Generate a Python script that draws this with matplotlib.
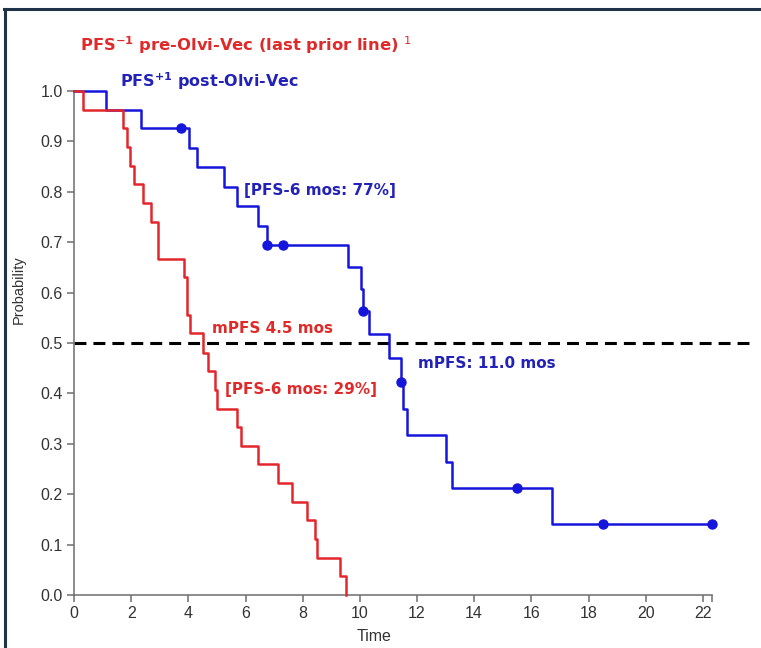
import numpy as np
import matplotlib
matplotlib.use("Agg")
from matplotlib import pyplot as plt
from matplotlib.lines import Line2D

plt.rcParams['mathtext.fontset'] = 'dejavusans'

# PFS-1 (pre-Olvi-Vec, last prior line)
pre_time = [0, 0.33, 1.72, 1.84, 1.96, 2.10, 2.40, 2.69, 2.93, 3.85, 3.96, 4.05,
            4.52, 4.68, 4.93, 5.01, 5.69, 5.83, 6.45, 7.15, 7.64, 8.14, 8.43,
            8.51, 9.31, 9.52]
pre_surv = [1.0, 0.963, 0.926, 0.889, 0.852, 0.815, 0.778, 0.741, 0.667, 0.630,
            0.556, 0.519, 0.481, 0.444, 0.407, 0.370, 0.333, 0.296, 0.259, 0.222,
            0.185, 0.148, 0.111, 0.074, 0.037, 0.0]

# PFS+1 (post-Olvi-Vec)
post_time = [0, 1.12, 2.33, 4.03, 4.31, 5.25, 5.69, 6.45, 6.74, 9.60, 10.03, 10.10,
             10.33, 11.03, 11.43, 11.50, 11.64, 13.02, 13.21, 16.71, 22.31]
post_surv = [1.0, 0.963, 0.926, 0.887, 0.849, 0.810, 0.772, 0.733, 0.694, 0.651,
             0.607, 0.564, 0.517, 0.470, 0.423, 0.370, 0.317, 0.264, 0.212, 0.141,
             0.141]
cens_time = [3.73, 6.74, 7.32, 10.10, 11.43, 15.51, 18.5, 22.31]
cens_surv = [0.926, 0.694, 0.694, 0.564, 0.423, 0.212, 0.141, 0.141]

red = '#e3262b'
blue = '#1515dc'
red_txt = '#e02a2a'
blue_txt = '#2222b8'

W, H = 761, 648
fig = plt.figure(figsize=(W / 100, H / 100), dpi=100)
ax = fig.add_axes([74 / W, 1 - 595 / H, (711.7 - 74) / W, (595 - 91) / H])

def fx(px):
    return px / W

def fy(py):
    return 1 - py / H

ax.step(post_time, post_surv, where='post', color=blue, lw=1.8, clip_on=False, zorder=3)
ax.step(pre_time, pre_surv, where='post', color=red, lw=1.8, clip_on=False, zorder=3)
ax.plot(cens_time, cens_surv, 'o', color=blue, ms=6.5, clip_on=False, zorder=4)

# median line
ax.plot([0, 23.65], [0.5, 0.5], color='black', lw=2.2, dashes=(3.9, 2.3),
        clip_on=False, zorder=2)

ax.set_xlim(0, 22.31)
ax.set_ylim(0, 1.0)
ax.set_xticks(np.arange(0, 23, 2))
ax.set_xticks([22.31], minor=True)
ax.set_yticks(np.arange(0, 1.01, 0.1))
ax.set_yticklabels(['%.1f' % v for v in np.arange(0, 1.01, 0.1)])

for s in ['top', 'right']:
    ax.spines[s].set_visible(False)
for s in ['left', 'bottom']:
    ax.spines[s].set_color('#6e6e6e')
    ax.spines[s].set_linewidth(1.1)
ax.tick_params(which='both', direction='out', length=5, width=1.1, color='#6e6e6e',
               labelsize=11.5, labelcolor='#333333', pad=3)
for lab in ax.get_xticklabels() + ax.get_yticklabels():
    lab.set_family('Liberation Sans')

ax.set_ylabel('Probability', family='Liberation Sans', fontsize=10.5, color='#333333')
ax.yaxis.set_label_coords(-0.076, 0.605)
ax.set_xlabel('Time', family='Liberation Sans', fontsize=11.5, color='#333333')
ax.xaxis.set_label_coords(0.47, -0.083)
ax.xaxis.label.set_va('center')

tk = dict(family='DejaVu Sans', fontweight='bold', fontsize=11, va='baseline', ha='left')
fig.text(fx(80), fy(51), r'PFS$^{\mathbf{-1}}$ pre-Olvi-Vec (last prior line) $^{\mathit{1}}$',
         color=red_txt, **dict(tk, fontsize=11.8))
fig.text(fx(120), fy(87), r'PFS$^{\mathbf{+1}}$ post-Olvi-Vec', color=blue_txt,
         **dict(tk, fontsize=11.5))
fig.text(fx(244), fy(195), '[PFS-6 mos: 77%]', color=blue_txt, **tk)
fig.text(fx(212), fy(333), 'mPFS 4.5 mos', color=red_txt, **tk)
fig.text(fx(225), fy(394), '[PFS-6 mos: 29%]', color=red_txt, **tk)
fig.text(fx(418), fy(368), 'mPFS: 11.0 mos', color=blue_txt, **tk)

# dark frame of the slide panel
fig.add_artist(Line2D([fx(5), fx(5)], [fy(8.5), 0], color='#1e3347', lw=2.2))
fig.add_artist(Line2D([fx(4), 1], [fy(8.5), fy(8.5)], color='#1e3347', lw=2.2))

fig.savefig('out.png', dpi=100)
